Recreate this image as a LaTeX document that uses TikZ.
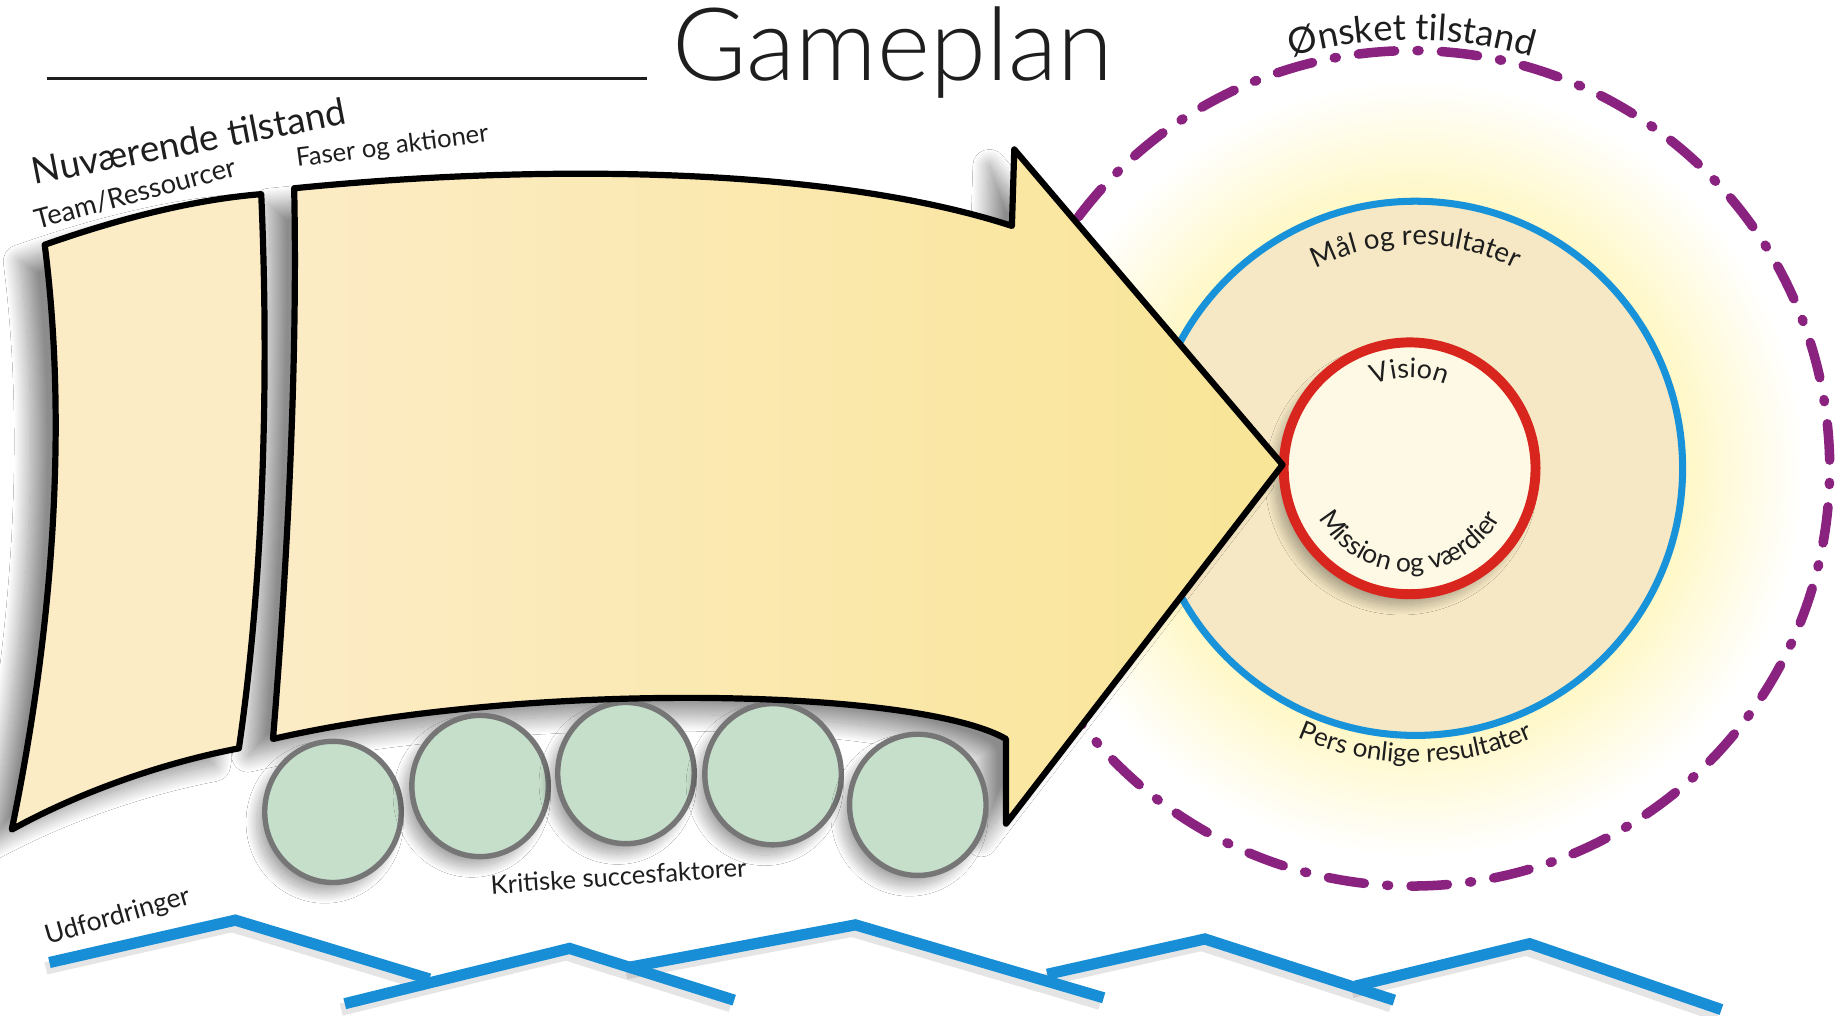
\documentclass[tikz,border=0pt]{standalone}
\usepackage{fontspec}
\setmainfont{Lato}
\IfFontExistsTF{Lato Light}{\newfontfamily\titlefont{Lato Light}}{\newfontfamily\titlefont{Lato}}
\usetikzlibrary{calc,decorations.text,shadows.blur}
\definecolor{cream}{RGB}{252,236,198}
\definecolor{creamR}{RGB}{249,229,150}
\definecolor{ksfgreen}{RGB}{198,223,203}
\definecolor{ksfgray}{RGB}{118,118,118}
\definecolor{zigblue}{RGB}{24,142,214}
\definecolor{ringblue}{RGB}{24,146,216}
\definecolor{ringred}{RGB}{216,38,30}
\definecolor{purp}{RGB}{138,34,128}
\definecolor{ringfill}{RGB}{246,232,196}
\definecolor{innercream}{RGB}{254,249,229}
\definecolor{glowY}{RGB}{255,247,196}
\definecolor{textdark}{RGB}{30,30,30}
\pgfdeclareradialshading{glowshade}{\pgfpoint{0bp}{0bp}}{color(0bp)=(glowY); color(17bp)=(glowY); color(25bp)=(white); color(50bp)=(white)}
\def\arrowpath{(250,-160) .. controls (450,-140) and (700,-140) .. (860,-192) -- (862,-127) -- (1090,-395) -- (855,-700) -- (855,-628) .. controls (780,-585) and (450,-578) .. (232,-628) .. controls (245,-470) and (253,-300) .. (250,-160) -- cycle}
\def\leftpath{(38,-208) .. controls (95,-188) and (160,-170) .. (222,-165) .. controls (228,-300) and (226,-480) .. (203,-636) .. controls (140,-648) and (70,-672) .. (10,-705) .. controls (40,-560) and (60,-380) .. (38,-208) -- cycle}
\begin{document}
\begin{tikzpicture}[x=0.01cm, y=0.01cm,
  outline/.style={draw=black, line width=1.5pt, line join=round},
  ksf/.style={fill=ksfgreen, draw=ksfgray, line width=1.3pt},
  zig/.style={draw=zigblue, line width=2.7pt, line join=miter, line cap=butt},
  zigshadow/.style={draw=black, opacity=0.10, line width=3pt, line join=miter},
  lab/.style={inner sep=0pt, text=textdark, anchor=base west},
  arcline/.style={decorate, decoration={text along path, text align=center, text color=textdark, text={#1}}},
  bigshadow/.style={blur shadow={shadow xshift=-6pt, shadow yshift=-4pt, shadow blur radius=4pt, shadow blur steps=40, shadow opacity=45}},
  smallshadow/.style={blur shadow={shadow xshift=-2pt, shadow yshift=-2.5pt, shadow blur radius=2.5pt, shadow blur steps=30, shadow opacity=35}},
]
\useasboundingbox (0,0) rectangle (1568,-863);
\fill[white] (0,0) rectangle (1568,-863);

% title
\draw[line width=0.7pt, textdark] (40,-67) -- (550,-67);
\node[lab, text=textdark, font=\titlefont\fontsize{24.5}{27}\selectfont] (title) at (571,-68) {Gameplan};

% target
\coordinate (C) at (1200,-398);
\coordinate (CB) at (1203,-398);
\coordinate (CR) at (1198,-398);
\shade[shading=glowshade] (CB) circle[radius=330];
\draw[ringblue, line width=1.7pt, fill=ringfill] (CB) circle[radius=227];
\draw[ringred, line width=2.4pt, fill=innercream, smallshadow] (CR) circle[radius=107];
\draw[purp, line width=2.3pt, line cap=round, dash pattern=on 8.8pt off 5.4pt on 0.5pt off 5.4pt] ($(C)+(143:355)$) arc[start angle=143, end angle=-143, radius=355];

% curved labels
\path[arcline={|\fontsize{8.8}{10}\selectfont|Ønsket tilstand}] ($(C)+(150:364)$) arc[start angle=150, end angle=30, radius=364];
\path[arcline={|\fontsize{6.7}{8}\selectfont|Mål og resultater}] ($(CB)+(160:190)$) arc[start angle=160, end angle=20, radius=190];
\path[arcline={|\fontsize{6.5}{7}\selectfont|Vision}] ($(CR)+(150:77)$) arc[start angle=150, end angle=30, radius=77];
\path[arcline={|\fontsize{6.4}{7}\selectfont|Mission og værdier}] ($(CR)+(185:88)$) arc[start angle=185, end angle=355, radius=88];
\path[arcline={|\fontsize{6.3}{7}\selectfont|Pers onlige resultater}] ($(CB)+(220:250)$) arc[start angle=220, end angle=320, radius=250];

% shadows of the arrow and the left box
\path[bigshadow] \arrowpath;
\path[bigshadow] \leftpath;

% critical success factors
\foreach \cx/\cy in {283/690, 408/668, 532/657, 657/658, 780/684}
  \draw[ksf, smallshadow] (\cx,-\cy) ellipse[x radius=58, y radius=60];

% shapes
\draw[outline, fill=cream] \leftpath;
\draw[outline, left color=cream, right color=creamR] \arrowpath;

% straight labels
\node[lab, rotate=11, font=\fontsize{8.9}{10}\selectfont] (nuv) at (29,-157) {Nuværende tilstand};
\node[lab, rotate=15, font=\fontsize{6.6}{8}\selectfont] (team) at (31,-195) {Team/Ressourcer};
\node[lab, rotate=7.5, font=\fontsize{6.2}{8}\selectfont] (faser) at (252,-142) {Faser og aktioner};
\node[lab, rotate=4, font=\fontsize{6.2}{8}\selectfont] (ksflab) at (417,-760) {Kritiske succesfaktorer};
\node[lab, rotate=16, font=\fontsize{6.4}{8}\selectfont] (udf) at (40,-803) {Udfordringer};

% challenges zigzags
\begin{scope}[shift={(-3,-5)}]
\draw[zigshadow] (42,-818) -- (200,-782) -- (365,-832);
\draw[zigshadow] (293,-853) -- (484,-806) -- (624,-850);
\draw[zigshadow] (535,-822) -- (727,-786) -- (938,-848);
\draw[zigshadow] (890,-828) -- (1024,-798) -- (1185,-850);
\draw[zigshadow] (1152,-838) -- (1300,-802) -- (1463,-858);
\end{scope}
\draw[zig] (42,-818) -- (200,-782) -- (365,-832);
\draw[zig] (293,-853) -- (484,-806) -- (624,-850);
\draw[zig] (535,-822) -- (727,-786) -- (938,-848);
\draw[zig] (890,-828) -- (1024,-798) -- (1185,-850);
\draw[zig] (1152,-838) -- (1300,-802) -- (1463,-858);
\end{tikzpicture}
\end{document}
